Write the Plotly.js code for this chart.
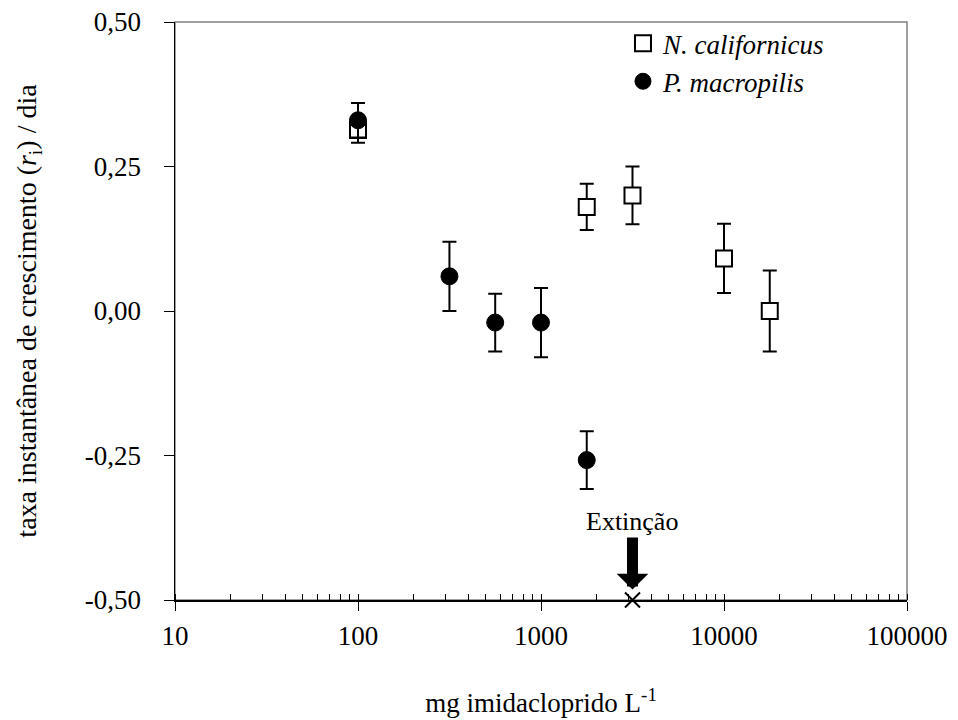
<!DOCTYPE html>
<html>
<head>
<meta charset="utf-8">
<script src="https://cdn.plot.ly/plotly-3.0.1.min.js"></script>
<style>html,body{margin:0;padding:0;background:#fff;}#chart{width:958px;height:720px;}</style>
</head>
<body>
<div id="chart"></div>
<script>
// N. californicus (open squares)
const ncX = [100, 1778, 3162, 10000, 17783];
const ncY = [0.313, 0.180, 0.200, 0.091, 0.000];
const ncErr = [0.022, 0.040, 0.050, 0.060, 0.070];

// P. macropilis (filled circles)
const pmX = [100, 316, 562, 1000, 1778];
const pmY = [0.330, 0.060, -0.020, -0.020, -0.258];
const pmErr = [0.030, 0.060, 0.050, 0.060, 0.050];

// Extinction point
const extX = [3162];
const extY = [-0.5];

const xTickVals = [10, 100, 1000, 10000, 100000];
const xTickText = ['10', '100', '1000', '10000', '100000'];
const yTickVals = [-0.5, -0.25, 0, 0.25, 0.5];
const yTickText = ['-0,50', '-0,25', '0,00', '0,25', '0,50'];

const FONT = 'Liberation Serif';

const traces = [
  {
    x: ncX, y: ncY, type: 'scatter', mode: 'markers',
    name: '<i>N. californicus</i>',
    marker: {symbol: 'square', size: 16, color: 'white', line: {color: 'black', width: 2}},
    error_y: {type: 'data', array: ncErr, visible: true, color: 'black', thickness: 2, width: 7},
    cliponaxis: false
  },
  {
    x: pmX, y: pmY, type: 'scatter', mode: 'markers',
    name: '<i>P. macropilis</i>',
    marker: {symbol: 'circle', size: 17, color: 'black', line: {color: 'black', width: 1}},
    error_y: {type: 'data', array: pmErr, visible: true, color: 'black', thickness: 2, width: 7},
    cliponaxis: false
  },
  {
    x: extX, y: extY, type: 'scatter', mode: 'markers', showlegend: false,
    marker: {symbol: 'x-thin-open', size: 15, color: 'black', line: {color: 'black', width: 2}},
    cliponaxis: false
  }
];

const layout = {
  width: 958, height: 720,
  margin: {l: 175, r: 51, t: 22, b: 120},
  paper_bgcolor: 'white', plot_bgcolor: 'white',
  font: {family: FONT, size: 27, color: 'black'},
  showlegend: true,
  legend: {
    x: 0.612, y: 1.005, xanchor: 'left', yanchor: 'top',
    bgcolor: 'rgba(0,0,0,0)', borderwidth: 0,
    font: {family: FONT, size: 27, color: 'black'},
    tracegroupgap: 0
  },
  xaxis: {
    type: 'log', range: [1, 5],
    tickmode: 'array', tickvals: xTickVals, ticktext: xTickText,
    ticks: 'outside', ticklen: 9, tickwidth: 1, tickcolor: 'black',
    ticklabelstandoff: 2,
    minor: {ticks: 'inside', ticklen: 6, tickwidth: 1, tickcolor: 'black', dtick: 'D1', showgrid: false},
    showline: true, linecolor: 'black', linewidth: 1.5,
    showgrid: false, zeroline: false,
    tickfont: {family: FONT, size: 27, color: 'black'},
    title: {text: 'mg imidacloprido L<sup>-1</sup>', font: {family: FONT, size: 27, color: 'black'}, standoff: 43}
  },
  yaxis: {
    range: [-0.5, 0.5],
    tickmode: 'array', tickvals: yTickVals, ticktext: yTickText,
    ticks: 'outside', ticklen: 10, tickwidth: 1, tickcolor: 'black',
    ticklabelstandoff: 17,
    showline: true, linecolor: 'black', linewidth: 1.5,
    showgrid: false, zeroline: false,
    tickfont: {family: FONT, size: 27, color: 'black'},
    title: {text: 'taxa instantânea de crescimento (<i>r</i><sub>i</sub>) / dia', font: {family: FONT, size: 28, color: 'black'}, standoff: 40}
  },
  shapes: [
    {type: 'rect', xref: 'paper', yref: 'paper', x0: 0, x1: 1, y0: 0, y1: 1,
     line: {color: '#808080', width: 1.5}, layer: 'below'}
  ],
  annotations: [
    {
      x: Math.log10(extX[0]), y: -0.482, xref: 'x', yref: 'y',
      text: 'Extinção', showarrow: true,
      arrowhead: 1, arrowwidth: 11, arrowsize: 0.48, arrowcolor: 'black',
      ax: 0, ay: -68,
      font: {family: FONT, size: 26, color: 'black'}
    }
  ]
};

Plotly.newPlot('chart', traces, layout, {displayModeBar: false, staticPlot: true});
</script>
</body>
</html>
